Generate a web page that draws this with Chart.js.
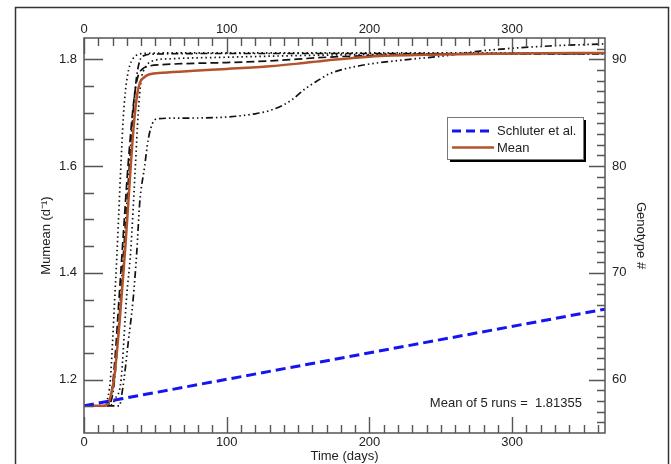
<!DOCTYPE html>
<html>
<head>
<meta charset="utf-8">
<script src="https://cdn.jsdelivr.net/npm/chart.js@4"></script>
<style>
  body { margin: 0; background: #fff; }
</style>
</head>
<body>
<canvas id="chart" width="671" height="464"></canvas>
<script>
// values (days, Mumean)
const schluterDays = [0, 365]
const schluterVals = [1.151, 1.332]

const meanDays = [0, 14, 17, 19, 21, 23, 25, 27, 29, 31, 33, 35, 37, 39, 42, 46, 55, 80, 100, 130, 150, 170, 200, 250, 300, 365]
const meanVals = [1.151, 1.151, 1.156, 1.172, 1.2, 1.25, 1.31, 1.38, 1.45, 1.53, 1.61, 1.68, 1.73, 1.755, 1.766, 1.772, 1.775, 1.779, 1.782, 1.787, 1.792, 1.798, 1.805, 1.809, 1.811, 1.812]

const run1Days = [0, 12, 15, 17, 18.5, 20, 21.5, 23, 24.5, 26, 27.5, 29, 30.5, 32, 34, 37, 42, 60, 100, 200, 365]
const run1Vals = [1.151, 1.151, 1.155, 1.17, 1.2, 1.27, 1.35, 1.43, 1.52, 1.61, 1.69, 1.74, 1.77, 1.788, 1.8, 1.808, 1.811, 1.812, 1.812, 1.812, 1.812]

const run2Days = [0, 18, 22, 26, 29.7, 32.7, 36, 38, 40, 43, 48, 60, 100, 170, 250, 365]
const run2Vals = [1.151, 1.151, 1.165, 1.2, 1.35, 1.44, 1.6, 1.7, 1.76, 1.785, 1.797, 1.801, 1.804, 1.808, 1.81, 1.811]

const run3Days = [0, 15, 18, 20, 22, 24, 26, 28, 30, 32, 34, 36, 38, 41, 45, 55, 70, 100, 130, 170, 200, 250, 365]
const run3Vals = [1.151, 1.151, 1.16, 1.19, 1.25, 1.33, 1.41, 1.49, 1.57, 1.64, 1.7, 1.745, 1.77, 1.782, 1.787, 1.79, 1.792, 1.794, 1.797, 1.804, 1.807, 1.81, 1.811]

const run4Days = [0, 16, 19, 21, 23, 25, 27, 29, 31, 33, 35, 37, 39, 42, 50, 100, 200, 365]
const run4Vals = [1.151, 1.151, 1.16, 1.19, 1.25, 1.33, 1.41, 1.49, 1.57, 1.65, 1.72, 1.77, 1.797, 1.807, 1.81, 1.811, 1.811, 1.81]

const run5Days = [0, 25, 26, 28, 31, 34.4, 37, 39, 42.5, 45, 48, 52, 70, 100, 120, 130, 140, 146, 155, 163, 172, 193, 228, 251, 279, 326, 365]
const run5Vals = [1.151, 1.151, 1.165, 1.2, 1.27, 1.35, 1.44, 1.53, 1.6, 1.65, 1.68, 1.689, 1.69, 1.692, 1.698, 1.704, 1.715, 1.725, 1.745, 1.759, 1.773, 1.788, 1.8, 1.806, 1.816, 1.825, 1.829]

const xLabels = [0, 100, 200, 300]
const yLabels = [1.2, 1.4, 1.6, 1.8]
const genoLabels = [60, 70, 80, 90]
const meanText = 'Mean of 5 runs =  1.81355'

const pts = (xs, ys) => xs.map((x, i) => ({ x: x, y: ys[i] }))

Chart.defaults.font.family = "'Liberation Sans', Arial, Helvetica, sans-serif"
Chart.defaults.font.size = 13
Chart.defaults.color = '#222'

const blk = '#111'
function run(data, dash) {
    return {
        data: data,
        borderColor: blk,
        borderWidth: 1.7,
        borderDash: dash,
        pointRadius: 0,
        cubicInterpolationMode: 'monotone'
    }
}

const decor = {
    id: 'decor',
    beforeDraw(chart) {
        const ctx = chart.ctx
        ctx.save()
        ctx.fillStyle = '#fff'
        ctx.fillRect(0, 0, chart.width, chart.height)
        ctx.strokeStyle = '#333'
        ctx.lineWidth = 1.5
        ctx.strokeRect(15.5, 7.5, 653, 480)
        ctx.restore()
    },
    afterDraw(chart) {
        const { ctx, chartArea: a, scales } = chart
        ctx.save()
        ctx.strokeStyle = '#555'
        ctx.lineWidth = 1.4
        ctx.beginPath()
        // x ticks, every 10 days
        for (let d = 0; d <= 360; d += 10) {
            const px = Math.round(scales.x.getPixelForValue(d)) + 0.5
            const len = d % 100 == 0 ? 16 : 8
            ctx.moveTo(px, a.bottom); ctx.lineTo(px, a.bottom - len)
            ctx.moveTo(px, a.top); ctx.lineTo(px, a.top + len)
        }
        // left ticks, every 0.05
        for (let k = 23; k <= 36; k++) {
            const py = Math.round(scales.y.getPixelForValue(k * 0.05)) + 0.5
            const len = k % 4 == 0 ? 19 : 10
            ctx.moveTo(a.left, py); ctx.lineTo(a.left + len, py)
        }
        // right ticks, every genotype
        for (let g = 56; g <= 91; g++) {
            const py = Math.round(scales.y2.getPixelForValue(g)) + 0.5
            const len = g % 10 == 0 ? 16 : 8
            ctx.moveTo(a.right, py); ctx.lineTo(a.right - len, py)
        }
        ctx.stroke()
        ctx.lineWidth = 1.5
        ctx.strokeRect(a.left, a.top, a.right - a.left, a.bottom - a.top)

        // legend
        const lx = 447, ly = 117, lw = 136, lh = 42
        ctx.fillStyle = '#000'
        ctx.fillRect(lx + 3, ly + 3, lw, lh)
        ctx.fillStyle = '#fff'
        ctx.fillRect(lx, ly, lw, lh)
        ctx.strokeStyle = '#777'
        ctx.lineWidth = 1
        ctx.strokeRect(lx + 0.5, ly + 0.5, lw, lh)

        ctx.lineWidth = 3
        ctx.strokeStyle = '#1515f0'
        ctx.setLineDash([9, 5])
        ctx.beginPath(); ctx.moveTo(452, 131); ctx.lineTo(494, 131); ctx.stroke()
        ctx.setLineDash([])
        ctx.lineWidth = 2.5
        ctx.strokeStyle = '#b4532b'
        ctx.beginPath(); ctx.moveTo(452, 147.5); ctx.lineTo(494, 147.5); ctx.stroke()

        ctx.fillStyle = '#222'
        ctx.font = "13px 'Liberation Sans', Arial, sans-serif"
        ctx.textBaseline = 'middle'
        ctx.textAlign = 'left'
        ctx.fillText('Schluter et al.', 497, 131)
        ctx.fillText('Mean', 497, 148)

        ctx.textAlign = 'right'
        ctx.fillText(meanText, 582, 403)
        ctx.restore()
    }
}

const noGrid = { display: false, drawTicks: false }

new Chart(document.getElementById('chart'), {
    type: 'line',
    data: {
        datasets: [
            {
                data: pts(schluterDays, schluterVals),
                borderColor: '#1515f0',
                borderWidth: 3,
                borderDash: [10, 5],
                pointRadius: 0
            },
            {
                data: pts(meanDays, meanVals),
                borderColor: '#b4532b',
                borderWidth: 2.5,
                pointRadius: 0,
                cubicInterpolationMode: 'monotone'
            },
            run(pts(run1Days, run1Vals), [1.5, 3]),
            run(pts(run2Days, run2Vals), [1.5, 3]),
            run(pts(run3Days, run3Vals), [8, 4]),
            run(pts(run4Days, run4Vals), [7, 3, 1.5, 3]),
            run(pts(run5Days, run5Vals), [7, 3, 1.5, 3, 1.5, 3, 1.5, 3])
        ]
    },
    options: {
        responsive: false,
        animation: false,
        layout: { padding: 0 },
        plugins: { legend: { display: false }, tooltip: { enabled: false } },
        scales: {
            x: {
                type: 'linear', position: 'bottom', min: 0, max: 365,
                grid: noGrid, border: { display: false },
                afterBuildTicks: s => { s.ticks = xLabels.map(v => ({ value: v })) },
                afterFit: s => { s.height = 31 },
                ticks: { padding: 2, callback: v => v, maxRotation: 0 },
                title: { display: true, text: 'Time (days)', padding: { top: 0, bottom: 0 } }
            },
            x2: {
                type: 'linear', position: 'top', min: 0, max: 365, display: true,
                grid: noGrid, border: { display: false },
                afterBuildTicks: s => { s.ticks = xLabels.map(v => ({ value: v })) },
                afterFit: s => { s.height = 38 },
                ticks: { padding: 1, callback: v => v, maxRotation: 0 }
            },
            y: {
                type: 'linear', position: 'left', min: 1.1, max: 1.84,
                grid: noGrid, border: { display: false },
                afterBuildTicks: s => { s.ticks = yLabels.map(v => ({ value: v })) },
                afterFit: s => { s.width = 84 },
                ticks: { padding: 7, callback: v => v.toFixed(1) },
                title: { display: true, text: 'Mumean (d⁻¹)', padding: { top: 39, bottom: 0 } }
            },
            y2: {
                type: 'linear', position: 'right', min: 55, max: 92, display: true,
                grid: noGrid, border: { display: false },
                afterBuildTicks: s => { s.ticks = genoLabels.map(v => ({ value: v })) },
                afterFit: s => { s.width = 66 },
                ticks: { padding: 7, callback: v => v },
                title: { display: true, text: 'Genotype #', padding: { top: 23, bottom: 0 } }
            }
        }
    },
    plugins: [decor]
})
</script>
</body>
</html>
